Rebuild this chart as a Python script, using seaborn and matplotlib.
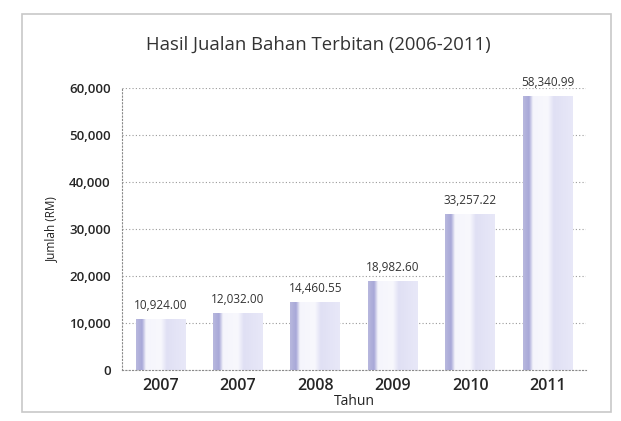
import numpy as np
import pandas as pd
import matplotlib
matplotlib.use("Agg")
import matplotlib.pyplot as plt
import seaborn as sns
from matplotlib.colors import LinearSegmentedColormap
from matplotlib.patches import Rectangle
from matplotlib.ticker import FuncFormatter

# data
years = ["2007", "2007", "2008", "2009", "2010", "2011"]
sales = [10924.00, 12032.00, 14460.55, 18982.60, 33257.22, 58340.99]

df = pd.DataFrame({"slot": list(range(len(years))), "sales": sales})

sns.set_theme(style="white")
plt.rcParams["font.family"] = ["Open Sans", "DejaVu Sans"]

fig = plt.figure(figsize=(6.21, 4.21), dpi=100)
ax = fig.add_axes([0.196, 0.121, 0.748, 0.670])

sns.barplot(data=df, x="slot", y="sales", ax=ax, width=0.64,
            color="#e2e2f5", saturation=1, edgecolor="none")

# cylinder-like shading, clipped to every bar
cyl = LinearSegmentedColormap.from_list("cyl", [
    (0.0, "#b8b8de"), (0.12, "#a8a8d8"), (0.2, "#f5f5fc"),
    (0.5, "#f8f8fd"), (0.62, "#e0e0f4"), (1.0, "#e8e8f8")])
grad = np.linspace(0, 1, 256).reshape(1, -1)
for bar in ax.patches:
    x0, w, h = bar.get_x(), bar.get_width(), bar.get_height()
    im = ax.imshow(grad, cmap=cyl, aspect="auto", extent=[x0, x0 + w, 0, h],
                   zorder=bar.get_zorder() + 0.1)
    im.set_clip_path(bar)

ax.set_xlim(-0.5, len(years) - 0.5)
ax.set_ylim(0, 60000)
ax.set_yticks(range(0, 60001, 10000))
ax.yaxis.set_major_formatter(FuncFormatter(lambda v, p: f"{v:,.0f}"))
ax.set_xticks(range(len(years)))
ax.set_xticklabels(years)

ax.grid(axis="y", color="#9a9a9a", linestyle=(0, (1, 2)), linewidth=0.8)
ax.set_axisbelow(True)
for s in ["top", "right"]:
    ax.spines[s].set_visible(False)
for s in ["left", "bottom"]:
    ax.spines[s].set_color("#8a8a8a")
    ax.spines[s].set_linestyle((0, (1, 2)))
    ax.spines[s].set_linewidth(0.8)

ax.tick_params(axis="y", labelsize=9.5, length=3, color="#888888", pad=5)
ax.tick_params(axis="x", labelsize=11.5, length=0, pad=6)
for t in ax.get_yticklabels():
    t.set_fontweight("semibold")
for t in ax.get_xticklabels():
    t.set_fontweight("semibold")

for i, v in enumerate(sales):
    ax.text(i, v + 1500, f"{v:,.2f}", ha="center", va="bottom",
            fontsize=8.5, color="#333333", clip_on=False)

ax.set_xlabel("Tahun", fontsize=10, labelpad=0, color="#222222")
ax.set_ylabel("Jumlah (RM)", fontsize=8.5, labelpad=8, color="#222222")
fig.suptitle("Hasil Jualan Bahan Terbitan (2006-2011)", x=0.512, y=0.915,
             fontsize=13.3, color="#333333")

fig.add_artist(Rectangle((0.036, 0.022), 0.948, 0.945, transform=fig.transFigure,
                         fill=False, edgecolor="#c8c8c8", linewidth=1.2))

fig.savefig("out.png", dpi=100, facecolor="white")
